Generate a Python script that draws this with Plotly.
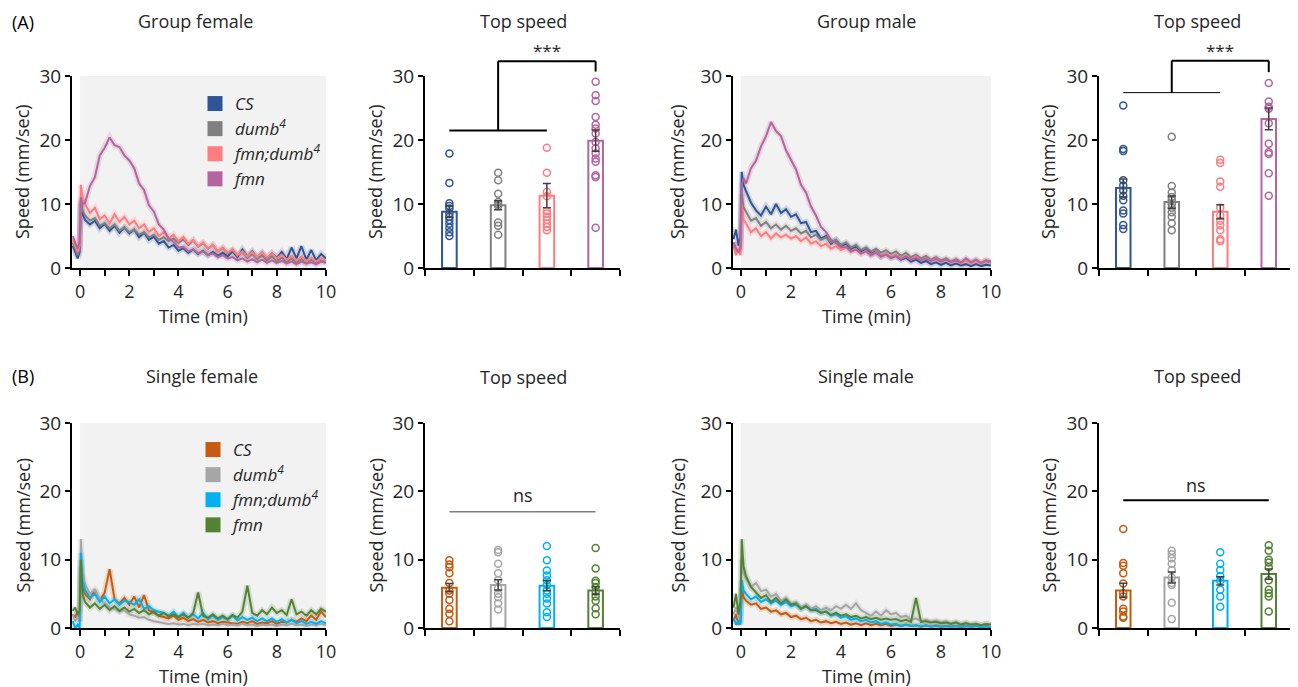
import plotly.graph_objects as go

# page body has an 8px margin: figure drawn 8px in from the window edge
OFF = 8
W, H = 1298 - OFF, 687 - OFF
FONT = "Open Sans"
TXT = "#262626"

# ---------------- data ----------------
GROUPS = ["<i>CS</i>", "<i>dumb<sup>4</sup></i>", "<i>fmn;dumb<sup>4</sup></i>", "<i>fmn</i>"]
COLORS_A = ["#2F5597", "#808080", "#FF7C80", "#B5649F"]
COLORS_B = ["#C55A11", "#A6A6A6", "#00B0F0", "#548235"]

TIME = [-0.3, -0.2, -0.1, -0.02, 0.03, 0.1,
        0.2, 0.4, 0.6, 0.8, 1.0, 1.2, 1.4, 1.6, 1.8, 2.0,
        2.2, 2.4, 2.6, 2.8, 3.0, 3.2, 3.4, 3.6, 3.8, 4.0,
        4.2, 4.4, 4.6, 4.8, 5.0, 5.2, 5.4, 5.6, 5.8, 6.0,
        6.2, 6.4, 6.6, 6.8, 7.0, 7.2, 7.4, 7.6, 7.8, 8.0,
        8.2, 8.4, 8.6, 8.8, 9.0, 9.2, 9.4, 9.6, 9.8, 10.0]
TIME_TICKS = [0, 2, 4, 6, 8, 10]
TIME_MINOR_TICKS = [1, 3, 5, 7, 9]
SPEED_TICKS = [0, 10, 20, 30]

# Group female time courses
GF_CS = [3.5, 2.5, 1.5, 2.5, 10.5, 8.5,
         7.5, 6.8, 7.4, 6.2, 6.9, 5.8, 6.6, 5.5, 6.3, 5.4,
         6.0, 4.8, 5.5, 4.4, 4.9, 3.8, 4.2, 3.2, 3.6, 2.7,
         3.1, 2.4, 2.9, 2.2, 2.7, 2.0, 2.5, 1.9, 2.4, 1.8,
         2.6, 1.7, 2.9, 1.8, 2.6, 1.6, 2.4, 1.5, 2.3, 1.6,
         2.5, 1.4, 3.2, 1.5, 3.4, 1.3, 2.8, 1.2, 2.2, 1.5]
GF_DUMB = [4.0, 3.0, 2.0, 3.0, 10.0, 9.0,
           8.2, 7.4, 7.8, 6.6, 7.0, 6.2, 6.8, 5.8, 6.4, 5.6,
           6.0, 5.2, 5.6, 4.8, 5.2, 4.4, 4.8, 4.2, 4.6, 3.9,
           4.5, 3.6, 4.3, 3.3, 3.9, 3.0, 3.6, 2.6, 3.1, 2.3,
           2.8, 1.9, 2.5, 1.6, 2.2, 1.4, 2.0, 1.2, 1.8, 1.1,
           1.6, 0.9, 1.5, 0.8, 1.4, 0.7, 1.3, 0.8, 1.2, 0.9]
GF_FD = [4.5, 3.5, 2.5, 3.5, 13.0, 11.0,
         10.0, 8.6, 9.4, 7.6, 8.2, 7.0, 8.4, 7.2, 8.0, 6.8,
         7.4, 6.2, 6.8, 5.6, 6.2, 5.0, 5.6, 4.6, 5.2, 4.2,
         4.8, 3.8, 4.4, 3.4, 4.0, 3.0, 3.6, 2.6, 3.2, 2.4,
         2.9, 2.0, 2.6, 1.8, 2.5, 1.7, 2.4, 1.6, 2.3, 1.5,
         2.1, 1.3, 1.9, 1.2, 1.8, 1.1, 1.6, 1.0, 1.5, 1.1]
GF_FMN = [5.0, 4.0, 3.0, 4.0, 11.0, 10.0,
          10.2, 12.8, 14.2, 17.6, 18.8, 20.4, 19.2, 18.9, 17.6, 16.8,
          15.6, 13.2, 12.2, 9.8, 8.8, 6.8, 6.0, 4.6, 4.1, 3.2,
          3.3, 2.6, 2.9, 2.3, 2.6, 2.0, 2.3, 1.7, 2.0, 1.5,
          1.7, 1.2, 1.5, 1.0, 1.4, 0.9, 1.3, 0.8, 1.2, 0.8,
          1.1, 0.7, 1.0, 0.6, 1.0, 0.7, 0.9, 0.6, 1.0, 0.8]

# Group male time courses
GM_CS = [4.5, 6.0, 3.5, 5.0, 15.0, 13.0,
         12.0, 10.2, 9.0, 8.2, 9.6, 8.4, 10.0, 8.6, 9.2, 8.0,
         8.4, 7.0, 7.2, 5.6, 5.8, 4.6, 5.0, 3.8, 4.4, 3.4,
         3.8, 3.0, 3.4, 2.6, 3.0, 2.2, 2.6, 1.8, 2.2, 1.6,
         1.9, 1.3, 1.6, 1.0, 1.3, 0.8, 1.1, 0.6, 0.9, 0.5,
         0.8, 0.4, 0.7, 0.4, 0.6, 0.3, 0.6, 0.3, 0.5, 0.4]
GM_DUMB = [4.0, 3.0, 2.5, 3.5, 11.5, 9.5,
           8.8, 7.4, 7.8, 6.6, 7.2, 6.2, 6.8, 6.0, 6.6, 5.8,
           6.2, 5.4, 5.8, 4.8, 5.2, 4.4, 4.8, 4.0, 4.4, 3.6,
           4.0, 3.2, 3.6, 2.8, 3.2, 2.6, 3.0, 2.4, 2.8, 2.2,
           2.6, 1.9, 2.4, 1.7, 2.1, 1.5, 1.9, 1.3, 1.7, 1.2,
           1.5, 1.0, 1.4, 0.9, 1.3, 0.8, 1.2, 0.7, 1.1, 0.8]
GM_FD = [3.5, 2.0, 3.0, 2.0, 10.0, 7.5,
         7.0, 5.6, 6.2, 5.0, 5.6, 4.6, 5.4, 4.8, 5.2, 4.6,
         5.0, 4.2, 4.8, 3.8, 4.2, 3.4, 3.8, 3.0, 3.4, 2.8,
         3.2, 2.5, 2.9, 2.2, 2.7, 2.0, 2.5, 1.8, 2.3, 1.7,
         2.1, 1.5, 1.9, 1.3, 1.8, 1.2, 1.6, 1.1, 1.5, 1.0,
         1.3, 0.8, 1.2, 0.7, 1.2, 0.8, 1.1, 0.7, 1.2, 0.9]
GM_FMN = [4.0, 3.0, 2.5, 3.0, 13.0, 14.0,
          13.2, 15.6, 16.8, 19.0, 20.6, 22.8, 21.4, 20.6, 18.4, 16.8,
          15.4, 13.0, 11.8, 9.6, 8.2, 6.4, 5.6, 4.4, 3.9, 3.2,
          3.3, 2.6, 2.9, 2.3, 2.6, 2.0, 2.4, 1.8, 2.1, 1.6,
          1.9, 1.4, 1.8, 1.3, 1.6, 1.2, 1.5, 1.1, 1.4, 1.0,
          1.3, 0.9, 1.2, 0.8, 1.5, 0.9, 1.3, 0.8, 1.2, 1.0]

# Single female time courses
SF_CS = [2.0, 1.5, 2.5, 1.0, 9.0, 6.0,
         5.0, 4.2, 5.6, 4.0, 5.2, 8.6, 4.2, 3.6, 4.4, 3.4,
         4.6, 3.0, 4.8, 2.6, 2.2, 1.8, 1.6, 1.4, 1.8, 1.2,
         1.5, 1.0, 1.3, 0.9, 1.2, 0.8, 1.0, 0.7, 0.9, 0.8,
         0.8, 0.6, 0.9, 0.7, 1.0, 0.6, 0.8, 0.7, 1.0, 0.6,
         0.9, 0.8, 1.2, 0.9, 1.4, 1.0, 1.8, 1.2, 2.4, 1.6]
SF_DUMB = [2.0, 1.0, 1.5, 1.0, 13.0, 8.0,
           6.4, 5.0, 5.6, 4.2, 3.6, 3.0, 2.8, 2.4, 2.6, 2.0,
           1.8, 1.5, 1.6, 1.2, 1.0, 0.9, 0.8, 0.6, 0.7, 0.5,
           0.6, 0.4, 0.6, 0.5, 0.6, 0.4, 0.5, 0.4, 0.6, 0.4,
           0.5, 0.4, 0.6, 0.4, 0.5, 0.3, 0.5, 0.4, 0.5, 0.3,
           0.5, 0.4, 0.6, 0.4, 0.5, 0.3, 0.5, 0.4, 0.6, 0.4]
SF_FD = [1.0, 0.0, 0.5, 0.0, 11.0, 7.0,
         5.6, 4.4, 5.0, 3.8, 4.6, 3.6, 4.2, 3.4, 4.0, 3.8,
         3.4, 4.2, 2.8, 3.2, 2.6, 2.4, 2.2, 1.8, 2.4, 1.6,
         2.2, 1.5, 2.0, 1.4, 2.2, 1.3, 1.8, 1.2, 1.6, 1.2,
         1.8, 1.1, 1.6, 1.2, 1.5, 1.0, 1.4, 1.0, 1.4, 0.9,
         1.3, 0.8, 1.2, 0.7, 1.0, 0.6, 0.9, 0.6, 1.0, 0.7]
SF_FMN = [2.5, 3.0, 2.0, 2.5, 10.0, 5.0,
          3.8, 3.0, 3.6, 2.8, 3.4, 2.6, 3.2, 2.5, 3.0, 2.4,
          2.8, 2.2, 2.6, 2.0, 2.4, 1.8, 2.2, 1.7, 2.0, 1.6,
          2.0, 1.5, 2.2, 5.2, 1.8, 1.5, 2.0, 1.4, 1.8, 1.3,
          1.9, 1.5, 2.4, 6.2, 2.2, 1.8, 2.6, 2.0, 3.0, 2.2,
          2.6, 1.9, 4.2, 2.0, 2.4, 1.8, 2.6, 2.0, 2.8, 2.4]

# Single male time courses
SM_CS = [1.0, 2.0, 0.5, 1.0, 6.0, 4.5,
         4.0, 3.4, 3.6, 2.8, 3.0, 2.4, 2.6, 2.0, 2.2, 1.6,
         1.8, 1.3, 1.5, 1.0, 1.2, 0.8, 1.0, 0.7, 0.9, 0.6,
         0.8, 0.5, 0.7, 0.4, 0.7, 0.4, 0.6, 0.4, 0.6, 0.3,
         0.5, 0.3, 0.5, 0.3, 0.4, 0.2, 0.4, 0.2, 0.4, 0.2,
         0.3, 0.2, 0.3, 0.2, 0.3, 0.2, 0.3, 0.2, 0.3, 0.2]
SM_DUMB = [2.0, 3.0, 1.5, 2.0, 10.0, 8.0,
           7.2, 6.0, 6.6, 5.4, 5.6, 4.6, 5.0, 4.0, 4.4, 3.6,
           3.8, 3.0, 3.4, 2.8, 3.2, 2.6, 3.0, 2.6, 3.2, 2.8,
           3.4, 2.8, 3.6, 2.6, 2.2, 1.8, 2.4, 1.8, 2.6, 2.0,
           2.2, 1.6, 1.8, 1.2, 1.4, 1.0, 1.2, 0.9, 1.1, 0.8,
           1.0, 0.7, 0.9, 0.6, 0.8, 0.5, 0.7, 0.4, 0.6, 0.4]
SM_FD = [1.5, 0.5, 1.0, 0.5, 7.0, 5.5,
         5.0, 4.2, 4.6, 3.8, 4.2, 3.6, 4.0, 3.4, 3.8, 3.2,
         3.4, 2.8, 3.2, 2.6, 2.8, 2.2, 2.4, 1.8, 2.0, 1.5,
         1.7, 1.2, 1.4, 1.0, 1.2, 0.8, 1.0, 0.6, 0.8, 0.5,
         0.6, 0.3, 0.5, 0.3, 0.4, 0.2, 0.4, 0.2, 0.3, 0.2,
         0.3, 0.2, 0.3, 0.1, 0.3, 0.2, 0.3, 0.1, 0.2, 0.1]
SM_FMN = [3.0, 5.0, 2.0, 4.0, 13.0, 9.0,
          7.6, 6.0, 5.2, 4.4, 4.8, 3.8, 4.4, 3.6, 4.2, 3.4,
          3.6, 2.8, 3.2, 2.6, 2.6, 2.2, 2.4, 1.9, 2.2, 1.8,
          2.0, 1.6, 1.8, 1.4, 1.6, 1.3, 1.5, 1.2, 1.4, 1.2,
          1.3, 1.0, 1.2, 0.9, 4.4, 0.9, 1.0, 0.8, 0.9, 0.7,
          0.8, 0.6, 0.8, 0.5, 0.7, 0.5, 0.6, 0.4, 0.6, 0.5]

# Top speed: per-fly values, means and SEM
CAT_X = [1, 2, 3, 4]
CAT_EDGES = [0.5, 1.5, 2.5, 3.5, 4.5]
AF_PTS = [[17.9, 13.3, 10.1, 9.7, 9.3, 8.5, 8.0, 7.5, 6.9, 6.3, 5.6, 5.0],
          [14.9, 13.7, 11.6, 10.3, 10.0, 9.7, 7.1, 6.6, 5.2],
          [18.8, 14.9, 11.9, 11.2, 8.9, 8.5, 8.0, 7.5, 6.9, 6.4, 5.9],
          [29.1, 27.0, 26.1, 23.6, 22.4, 21.8, 21.0, 19.7, 18.7, 17.9, 17.1, 16.6, 14.5, 14.2, 6.3]]
AF_MEAN = [8.8, 9.8, 11.3, 19.9]
AF_SEM = [0.9, 0.7, 1.9, 1.65]

AM_PTS = [[25.4, 18.6, 18.3, 13.7, 12.9, 12.1, 11.3, 10.6, 9.0, 8.5, 6.7, 6.1],
          [20.5, 12.8, 11.8, 11.1, 10.6, 10.0, 9.4, 8.7, 8.0, 7.0, 5.9],
          [16.9, 16.4, 13.5, 12.7, 9.4, 8.2, 7.4, 6.7, 5.9, 4.5, 4.2],
          [28.9, 26.0, 25.2, 24.9, 22.6, 19.4, 18.1, 17.8, 14.8, 11.3]]
AM_MEAN = [12.5, 10.3, 8.8, 23.3]
AM_SEM = [1.4, 0.95, 1.1, 1.7]

BF_PTS = [[9.9, 9.3, 8.9, 8.0, 6.6, 5.5, 5.0, 4.1, 2.8, 2.1, 1.0],
          [11.4, 11.1, 9.4, 8.0, 7.0, 5.8, 5.0, 4.5, 3.6, 2.7],
          [12.0, 9.9, 8.4, 7.7, 7.0, 6.3, 5.5, 5.0, 4.3, 3.6, 2.3, 1.6],
          [11.7, 8.7, 6.9, 6.6, 6.0, 5.3, 4.6, 4.0, 2.9, 2.0]]
BF_MEAN = [5.9, 6.3, 6.2, 5.5]
BF_SEM = [0.6, 0.75, 0.75, 0.55]

BM_PTS = [[14.5, 9.5, 9.1, 8.0, 6.5, 5.1, 4.6, 2.8, 2.4, 1.7, 1.5],
          [11.3, 10.8, 10.2, 9.4, 8.5, 7.4, 6.6, 6.3, 3.7, 1.3],
          [11.1, 9.4, 8.5, 7.6, 6.9, 5.6, 4.6, 3.1],
          [12.1, 11.3, 10.0, 9.6, 8.9, 7.0, 5.6, 5.1, 4.6, 2.4]]
BM_MEAN = [5.5, 7.4, 6.9, 7.9]
BM_SEM = [1.05, 0.8, 0.6, 0.75]

for s in [GF_CS, GF_DUMB, GF_FD, GF_FMN, GM_CS, GM_DUMB, GM_FD, GM_FMN,
          SF_CS, SF_DUMB, SF_FD, SF_FMN, SM_CS, SM_DUMB, SM_FD, SM_FMN]:
    assert len(s) == len(TIME), len(s)

# ---------------- layout helpers (window pixel -> paper fraction) ----------------
COL_PX = [(72, 326), (425, 620), (733, 991), (1099, 1293)]
ROW_PX = [(268, 76), (628, 423)]


def fx(p):
    return (p - OFF) / W


def fy(p):
    return 1 - (p - OFF) / H


def xdom(c):
    a, b = COL_PX[c]
    return [fx(a), fx(b)]


def ydom(r):
    b, t = ROW_PX[r]
    return [fy(b), fy(t)]


def ann(text, x, y, size=18, color=TXT, angle=0):
    return dict(text=text, xref="paper", yref="paper", x=fx(x), y=fy(y),
                xanchor="center", yanchor="middle", showarrow=False, textangle=angle,
                font=dict(size=size, family=FONT, color=color))


fig = go.Figure()
layout = dict(width=W, height=H, margin=dict(l=0, r=0, t=0, b=0, autoexpand=False),
              paper_bgcolor="white", plot_bgcolor="white", showlegend=True,
              font=dict(family=FONT, color=TXT, size=18))
shapes = []
annotations = []

panels = [
    ("ts", 0, 0, [GF_CS, GF_DUMB, GF_FD, GF_FMN], COLORS_A),
    ("bar", 0, 1, (AF_PTS, AF_MEAN, AF_SEM), COLORS_A),
    ("ts", 0, 2, [GM_CS, GM_DUMB, GM_FD, GM_FMN], COLORS_A),
    ("bar", 0, 3, (AM_PTS, AM_MEAN, AM_SEM), COLORS_A),
    ("ts", 1, 0, [SF_CS, SF_DUMB, SF_FD, SF_FMN], COLORS_B),
    ("bar", 1, 1, (BF_PTS, BF_MEAN, BF_SEM), COLORS_B),
    ("ts", 1, 2, [SM_CS, SM_DUMB, SM_FD, SM_FMN], COLORS_B),
    ("bar", 1, 3, (BM_PTS, BM_MEAN, BM_SEM), COLORS_B),
]

for i, (kind, r, c, data, cols) in enumerate(panels):
    n = i + 1
    xa = "x" if n == 1 else f"x{n}"
    ya = "y" if n == 1 else f"y{n}"
    xkey = "xaxis" if n == 1 else f"xaxis{n}"
    ykey = "yaxis" if n == 1 else f"yaxis{n}"
    yax = dict(domain=ydom(r), anchor=xa, range=[0, 30], tickvals=SPEED_TICKS,
               ticks="outside", ticklen=5, tickwidth=1.5, tickcolor="black",
               showline=True, linewidth=2, linecolor="black", showgrid=False,
               zeroline=False, automargin=False,
               tickfont=dict(size=19, family=FONT, color=TXT))
    if kind == "ts":
        lo = -0.33 if c == 0 else -0.32
        xax = dict(domain=xdom(c), anchor=ya, range=[lo, 10], tickvals=TIME_TICKS,
                   ticks="outside", ticklen=6, tickwidth=2,
                   tickcolor="black", showline=True, linewidth=2, linecolor="black",
                   showgrid=False, zeroline=False, automargin=False,
                   minor=dict(tickvals=TIME_MINOR_TICKS, ticks="outside", ticklen=6,
                              tickwidth=2, tickcolor="black", showgrid=False),
                   tickfont=dict(size=18, family=FONT, color=TXT))
        shapes.append(dict(type="rect", xref=xa, yref=ya, x0=0, x1=10, y0=0, y1=30,
                           fillcolor="#F2F2F2", line=dict(width=0), layer="below"))
        for k in range(4):
            fig.add_trace(go.Scatter(x=TIME, y=data[k], mode="lines",
                                     line=dict(color=cols[k], width=6), opacity=0.18,
                                     xaxis=xa, yaxis=ya, showlegend=False, hoverinfo="skip"))
        for k in range(4):
            fig.add_trace(go.Scatter(x=TIME, y=data[k], mode="lines",
                                     line=dict(color=cols[k], width=2),
                                     xaxis=xa, yaxis=ya, showlegend=False))
        cx = (COL_PX[c][0] + 8 + COL_PX[c][1]) / 2
        ty = 316 if r == 0 else 676
        annotations.append(ann("Time (min)", cx, ty))
    else:
        pts, means, sem = data
        xax = dict(domain=xdom(c), anchor=ya, range=[0.5, 4.5],
                   tickvals=CAT_EDGES, showticklabels=False,
                   ticks="outside", ticklen=6, tickwidth=2, tickcolor="black",
                   showline=True, linewidth=2, linecolor="black", showgrid=False,
                   zeroline=False, automargin=False)
        fig.add_trace(go.Bar(x=CAT_X, y=means, width=0.3,
                             marker=dict(color="white", line=dict(color=cols, width=2)),
                             xaxis=xa, yaxis=ya, showlegend=False))
        for k in range(4):
            fig.add_trace(go.Scatter(x=[CAT_X[k]] * len(pts[k]), y=pts[k], mode="markers",
                                     marker=dict(symbol="circle-open", size=7, color=cols[k],
                                                 line=dict(width=1.5)),
                                     cliponaxis=False, xaxis=xa, yaxis=ya, showlegend=False))
        fig.add_trace(go.Scatter(x=CAT_X, y=means, mode="markers",
                                 marker=dict(size=2, opacity=0),
                                 error_y=dict(type="data", array=sem, color="#404040",
                                              thickness=1.5, width=4),
                                 xaxis=xa, yaxis=ya, showlegend=False, hoverinfo="skip"))
    layout[xkey] = xax
    layout[ykey] = yax
    ytx = {0: 22, 1: 375, 2: 677, 3: 1048}[c]
    yb, yt = ROW_PX[r]
    annotations.append(ann("Speed (mm/sec)", ytx, (yb + yt) / 2, angle=-90))

# panel titles
titles = [("Group female", 195, 21), ("Top speed", 523, 21), ("Group male", 866, 21),
          ("Top speed", 1197, 21), ("Single female", 202, 376), ("Top speed", 523, 377),
          ("Single male", 866, 376), ("Top speed", 1197, 376)]
for t, x, y in titles:
    annotations.append(ann(t, x, y))
for t, y in [("(A)", 22), ("(B)", 376)]:
    annotations.append(ann(t, 23, y, color="black"))


def xd(v):
    return (v - 0.5) / 4.0


def yd(v):
    return v / 30.0


def seg(n, x0, y0, x1, y1, w=2, color="black"):
    shapes.append(dict(type="line", xref=f"x{n} domain", yref=f"y{n} domain",
                       x0=xd(x0), y0=yd(y0), x1=xd(x1), y1=yd(y1),
                       line=dict(color=color, width=w)))


def note(n, text, xv, yv, size=18):
    annotations.append(dict(text=text, xref=f"x{n} domain", yref=f"y{n} domain",
                            x=xd(xv), y=yd(yv), xanchor="center", yanchor="middle",
                            showarrow=False, font=dict(size=size, family=FONT, color=TXT)))


# significance marks
seg(2, 1, 21.5, 3, 21.5)
seg(2, 2, 21.5, 2, 32.3)
seg(2, 2, 32.3, 4, 32.3)
seg(2, 4, 32.3, 4, 30.7)
note(2, "***", 3.0, 34.0, 17)
seg(4, 1, 27.4, 3, 27.4, w=1)
seg(4, 2, 27.4, 2, 32.4)
seg(4, 2, 32.4, 4, 32.4)
seg(4, 4, 32.4, 4, 30.6)
note(4, "***", 3.0, 34.0, 17)
seg(6, 1, 17.0, 4, 17.0, w=1, color="#404040")
note(6, "ns", 2.5, 19.4)
seg(8, 1, 18.7, 4, 18.7, w=2)
note(8, "ns", 2.5, 21.0)

# legends (legend for row A, legend2 for row B)
for k in range(4):
    fig.add_trace(go.Scatter(x=[None], y=[None], mode="markers", name=GROUPS[k],
                             marker=dict(symbol="square", size=15, color=COLORS_A[k]),
                             legend="legend", xaxis="x", yaxis="y"))
for k in range(4):
    fig.add_trace(go.Scatter(x=[None], y=[None], mode="markers", name=GROUPS[k],
                             marker=dict(symbol="square", size=15, color=COLORS_B[k]),
                             legend="legend2", xaxis="x5", yaxis="y5"))

leg_common = dict(xanchor="left", yanchor="top", bgcolor="rgba(0,0,0,0)",
                  itemsizing="trace", tracegroupgap=0,
                  font=dict(size=17, family=FONT, color=TXT))
layout["legend"] = dict(x=fx(195), y=fy(86), **leg_common)
layout["legend2"] = dict(x=fx(193), y=fy(432), **leg_common)
layout["shapes"] = shapes
layout["annotations"] = annotations
fig.update_layout(**layout)

fig.write_html("out.html")
